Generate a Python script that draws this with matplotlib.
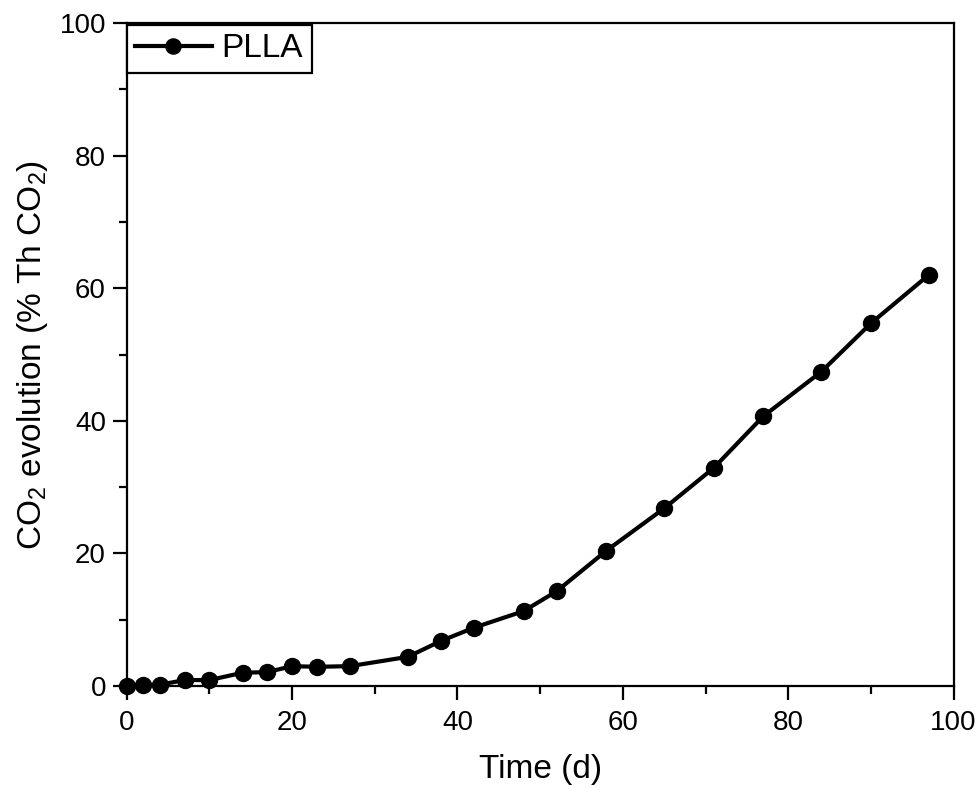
import matplotlib
matplotlib.use("Agg")
import matplotlib.pyplot as plt
from matplotlib.ticker import MultipleLocator

plt.rcParams['font.family'] = ['Liberation Sans', 'DejaVu Sans']
plt.rcParams['mathtext.default'] = 'regular'

time_d = [0, 2, 4, 7, 10, 14, 17, 20, 23, 27, 34, 38, 42, 48, 52, 58, 65, 71, 77, 84, 90, 97]
co2_pct = [0.0, 0.2, 0.2, 0.9, 0.9, 2.0, 2.1, 3.0, 2.9, 3.0, 4.4, 6.8, 8.8, 11.3, 14.3, 20.4,
           26.8, 32.9, 40.7, 47.4, 54.7, 62.0]
series_label = "PLLA"

fig = plt.figure(figsize=(9.75, 7.88), dpi=100)
ax = fig.add_axes([0.130, 0.1294, 0.848, 0.8414])

ax.plot(time_d, co2_pct, color='black', linewidth=3.0, marker='o', markersize=11.5,
        label=series_label, clip_on=False, zorder=3)

ax.set_xlim(0, 100)
ax.set_ylim(0, 100)
ax.xaxis.set_major_locator(MultipleLocator(20))
ax.xaxis.set_minor_locator(MultipleLocator(10))
ax.yaxis.set_major_locator(MultipleLocator(20))
ax.yaxis.set_minor_locator(MultipleLocator(10))
ax.tick_params(which='major', direction='out', length=10, width=1.6, labelsize=20)
ax.tick_params(axis='x', which='major', pad=7)
ax.tick_params(axis='y', which='major', pad=5)
ax.tick_params(which='minor', direction='out', length=5.5, width=1.6)
for s in ax.spines.values():
    s.set_linewidth(1.6)

ax.set_xlabel("Time (d)", fontsize=24, labelpad=13)
ax.set_ylabel("CO$_2$ evolution (% Th CO$_2$)", fontsize=24, labelpad=7)

leg = ax.legend(loc='upper left', bbox_to_anchor=(0, 0.997), borderaxespad=0, fontsize=24,
                frameon=True, fancybox=False, edgecolor='black', handlelength=2.3,
                borderpad=0.25, handletextpad=0.3, markerscale=0.95)
leg.get_frame().set_linewidth(1.6)
leg.get_frame().set_alpha(1)

fig.savefig("out.png", dpi=100)
